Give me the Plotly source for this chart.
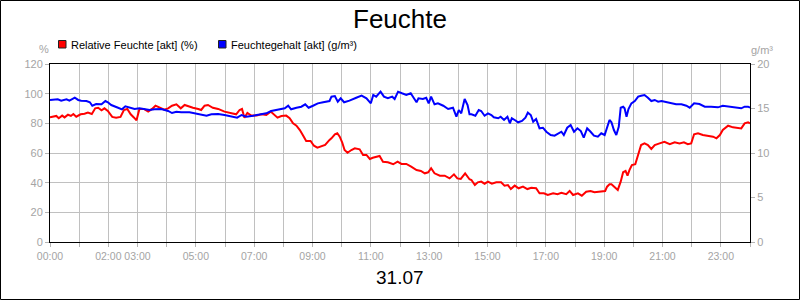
import plotly.graph_objects as go

# ---------------- data ----------------
# Relative Feuchte [akt] (%) : minutes of day, value
rf_min = [0, 13, 18, 25, 30, 37, 43, 48, 54, 63, 71, 78, 86, 93, 99, 106, 112, 119, 128, 136,
          145, 152, 159, 166, 173, 178, 184, 193, 202, 210, 217, 226, 235, 243, 251, 260, 269, 277, 287,
          294, 305, 311, 318, 325, 335, 346, 359, 373, 383, 390, 395, 400, 406, 414, 425, 435, 445,
          454, 461, 468, 476, 486, 493, 500, 507, 514, 520, 527, 536, 543, 550, 558, 566, 575,
          579, 586, 591, 596, 601, 606, 612, 620, 627, 637, 644, 651, 658, 664, 671, 678, 685, 695,
          706, 715, 723, 733, 743, 754, 763, 771, 778, 784, 791, 802, 812, 822, 831, 838, 845, 854, 863,
          867, 874, 880, 887, 894, 901, 909, 918, 928, 935, 942, 948, 956, 964, 973, 982, 990, 1000,
          1007, 1016, 1024, 1035, 1044, 1052, 1062, 1069, 1076, 1086, 1094, 1103, 1112, 1120, 1131,
          1142, 1146, 1151,
          1155, 1162, 1168, 1174, 1179, 1184, 1188, 1192, 1197, 1204, 1210, 1216, 1223, 1230, 1237,
          1244, 1254, 1264, 1275, 1285, 1295, 1304, 1312, 1319, 1325, 1333, 1343, 1354, 1364, 1371,
          1378, 1384, 1395, 1405, 1415, 1422, 1429, 1436, 1440]
rf_val = [84.0, 85.0, 83.4, 85.2, 84.0, 85.8, 85.0, 86.3, 84.5, 86.1, 86.5, 87.2, 86.3, 90.1, 90.5, 88.8, 90.1, 88.3, 84.3, 83.8,
          84.3, 89.0, 89.7, 86.1, 83.8, 82.0, 89.7, 89.7, 87.9, 89.7, 91.9, 90.5, 89.2, 90.1, 91.9, 92.8, 90.1, 92.4, 91.2,
          90.5, 89.7, 89.0, 91.9, 92.4, 90.5, 89.7, 87.9, 86.8, 86.1, 89.0, 89.7, 83.8, 87.0, 85.2, 85.2, 86.1, 85.6,
          87.9, 85.6, 83.8, 84.9, 85.2, 83.4, 80.0, 78.4, 75.5, 72.1, 68.1, 68.1, 64.9, 63.6, 64.3, 65.4, 68.8,
          69.9, 72.6, 73.3, 71.0, 67.2, 62.0, 60.2, 62.0, 63.2, 62.5, 58.7, 58.7, 56.0, 56.8, 57.5, 58.0, 54.1, 53.7,
          52.4, 54.1, 52.6, 52.6, 50.8, 48.5, 47.9, 46.3, 47.0, 49.7, 46.3, 44.7, 44.7, 42.9, 45.6, 42.9, 42.5, 46.3, 42.3,
          41.8, 38.4, 40.2, 40.7, 39.3, 40.7, 39.3, 40.2, 40.2, 38.0, 38.4, 35.7, 38.0, 36.2, 37.3, 35.7, 36.6, 36.2,
          32.8, 32.8, 31.7, 32.8, 32.2, 33.2, 32.2, 34.4, 31.7, 32.8, 31.2, 33.9, 34.4, 33.5, 33.9,
          34.4, 37.3, 38.9,
          38.9, 36.6, 35.1, 40.7, 47.0, 47.9, 44.7, 48.5, 51.9, 52.4, 58.7, 65.4, 66.5, 65.4, 62.7,
          65.4, 66.5, 67.6, 65.9, 67.2, 66.5, 67.2, 65.9, 66.5, 72.6, 73.3, 72.1, 71.7, 71.0, 69.9,
          72.1, 75.5, 78.4, 77.3, 77.1, 76.6, 80.0, 80.7, 80.0]

# Feuchtegehalt [akt] (g/m³) : minutes of day, value
fg_min = [0, 16, 23, 34, 40, 51, 58, 64, 75, 82, 87, 95, 106, 114, 119, 126, 140, 148, 155, 164,
          174, 184, 195, 205, 215, 229, 243, 251, 260, 270, 287,
          298, 311, 322, 332, 346, 359, 373, 385, 394, 404, 418, 431, 445, 455, 469, 483, 490, 496,
          507, 517, 525, 532, 541, 551, 562, 575,
          579, 586, 592, 598, 605, 616, 630, 641, 651, 660, 665, 671, 680, 687, 695, 704, 709, 716,
          724, 733, 742, 749, 754, 758, 767, 774, 779, 784, 791, 798, 809, 819, 829, 836, 841, 846,
          853, 859, 863,
          867, 875, 882, 887, 894, 901, 908, 913, 922, 927, 934, 941, 946, 950, 956, 963, 971, 978,
          983, 989, 994, 1000, 1007, 1014, 1021, 1030, 1038, 1045, 1052, 1057, 1064, 1071, 1078,
          1085, 1092, 1098, 1105, 1112, 1119, 1127, 1134, 1141, 1146, 1151,
          1155, 1160, 1165, 1170, 1174, 1179, 1182, 1186, 1190, 1196, 1203, 1210, 1216, 1223, 1230,
          1237, 1244, 1251, 1258, 1268, 1278, 1288, 1299, 1309, 1316, 1325, 1336, 1347, 1360, 1374,
          1384, 1398, 1412, 1422, 1429, 1436, 1440]
fg_val = [15.96, 16.03, 15.88, 16.03, 15.88, 16.21, 15.96, 15.88, 15.84, 15.70, 15.31, 15.50, 15.47, 15.84, 15.70, 15.39, 15.09, 14.91, 15.25, 15.13,
          14.94, 15.02, 14.91, 14.83, 14.91, 14.94, 14.72, 14.49, 14.64, 14.57, 14.57,
          14.46, 14.35, 14.19, 14.35, 14.38, 14.27, 14.08, 13.97, 14.27, 14.08, 14.19, 14.35, 14.46, 14.72, 14.83, 15.02, 15.31, 14.91,
          15.09, 15.20, 15.47, 15.09, 15.31, 15.58, 15.70, 15.84,
          16.33, 16.40, 15.77, 16.15, 15.70, 15.88, 16.21, 16.44, 16.15, 15.58, 16.52, 16.33, 16.89, 16.33, 16.15, 16.33, 16.07, 16.89,
          16.71, 16.52, 16.71, 16.15, 15.70, 16.15, 16.07, 16.21, 15.58, 16.33, 15.47, 15.58, 15.31, 14.94, 15.09, 14.08, 14.83, 14.46,
          16.07, 15.39, 14.35,
          14.35, 14.19, 14.83, 14.72, 14.19, 14.46, 14.27, 14.01, 13.90, 14.08, 13.71, 14.08, 13.34, 13.90, 13.71, 13.45, 13.60, 13.97,
          14.53, 14.27, 13.52, 13.82, 12.78, 12.84, 12.39, 12.02, 11.94, 12.21, 12.39, 12.02, 12.84, 13.15, 12.39,
          12.78, 12.47, 11.72, 12.78, 12.39, 11.94, 11.83, 12.21, 12.02, 12.78, 13.71,
          13.45, 12.58, 12.02, 12.95, 15.09, 15.20, 15.02, 14.08, 14.94, 15.58, 15.84, 16.33, 16.44, 16.52, 16.21,
          15.84, 15.96, 15.77, 15.84, 15.70, 15.58, 15.47, 15.47, 15.31, 15.09, 15.58, 15.50, 15.20, 15.20, 15.13,
          15.31, 15.20, 15.09, 15.02, 15.20, 15.20, 15.09]

x_tick_vals = list(range(0, 1441, 60))
x_tick_text = ["00:00", "", "02:00", "03:00", "", "05:00", "", "07:00", "", "09:00", "", "11:00", "",
               "13:00", "", "15:00", "", "17:00", "", "19:00", "", "21:00", "", "23:00", ""]
y_left_ticks = [0, 20, 40, 60, 80, 100, 120]
y_right_ticks = [0, 5, 10, 15, 20]

title_text = "Feuchte"
date_text = "31.07"
legend_names = ["Relative Feuchte [akt] (%)", "Feuchtegehalt [akt] (g/m³)"]
legend_colors = ["#ff0000", "#0000ff"]

# ---------------- layout helpers ----------------
W, H = 800, 300
L, R, T, B = 50, 50, 64, 58
PW, PH = W - L - R, H - T - B


def px(xp):
    return (xp - L) / PW


def py(yp):
    return (H - B - yp) / PH


FONT = "Liberation Sans, Arial, sans-serif"
LABEL_GRAY = "#a4a4a4"
TICK_GRAY = "#b4b4b4"
GRID_GRAY = "#c0c0c0"

fig = go.Figure()
fig.add_trace(go.Scatter(x=fg_min, y=fg_val, yaxis="y2", mode="lines",
                         line=dict(color=legend_colors[1], width=2), name=legend_names[1]))
fig.add_trace(go.Scatter(x=rf_min, y=rf_val, mode="lines",
                         line=dict(color=legend_colors[0], width=2), name=legend_names[0]))

shapes = [
    dict(type="rect", xref="paper", yref="paper", x0=px(0.5), x1=px(W - 0.5), y0=py(H - 0.5), y1=py(0.5),
         line=dict(color="black", width=1), fillcolor="rgba(0,0,0,0)", layer="above"),
]
annotations = [
    dict(text=date_text, x=0.5, y=py(277), xref="paper", yref="paper", showarrow=False,
         xanchor="center", yanchor="middle", font=dict(family=FONT, size=19, color="black")),
    dict(text="%", x=px(43.5), y=py(49), xref="paper", yref="paper", showarrow=False,
         xanchor="center", yanchor="middle", font=dict(family=FONT, size=11, color=LABEL_GRAY)),
    dict(text="g/m³", x=px(762), y=py(50), xref="paper", yref="paper", showarrow=False,
         xanchor="center", yanchor="middle", font=dict(family=FONT, size=11, color=LABEL_GRAY)),
]
legend_x = [58, 218]
for name, col, lx in zip(legend_names, legend_colors, legend_x):
    shapes.append(dict(type="rect", xref="paper", yref="paper", x0=px(lx + 0.5), x1=px(lx + 8),
                       y0=py(48), y1=py(40.5), line=dict(color="#202020", width=1), fillcolor=col))
    annotations.append(dict(text=name, x=px(lx + 11), y=py(44.5), xref="paper", yref="paper",
                            showarrow=False, xanchor="left", yanchor="middle",
                            font=dict(family=FONT, size=11, color="black")))

fig.update_layout(
    width=W, height=H,
    margin=dict(l=L, r=R, t=T, b=B, pad=0),
    paper_bgcolor="white", plot_bgcolor="white",
    showlegend=False,
    font=dict(family=FONT, size=11, color=LABEL_GRAY),
    title=dict(text=title_text, x=0.5, xanchor="center", y=1 - 19 / H, yanchor="middle",
               yref="container", font=dict(family=FONT, size=26, color="black")),
    xaxis=dict(range=[0, 1440], tickmode="array", tickvals=x_tick_vals, ticktext=x_tick_text,
               tickangle=0,
               showgrid=True, gridcolor=GRID_GRAY, gridwidth=1, zeroline=False,
               ticks="outside", ticklen=4, tickcolor=TICK_GRAY, tickwidth=1,
               tickfont=dict(family=FONT, size=10.5, color=LABEL_GRAY),
               showline=True, linecolor="black", linewidth=1, mirror=True),
    yaxis=dict(range=[0, 120], tickmode="array", tickvals=y_left_ticks,
               showgrid=True, gridcolor=GRID_GRAY, gridwidth=1, zeroline=False,
               ticks="outside", ticklen=4, tickcolor=TICK_GRAY, tickwidth=1,
               tickfont=dict(family=FONT, size=11, color=LABEL_GRAY),
               showline=True, linecolor="black", linewidth=1, mirror=True),
    yaxis2=dict(range=[0, 20], overlaying="y", side="right", tickmode="array", tickvals=y_right_ticks,
                showgrid=False, zeroline=False, showline=False,
                ticks="outside", ticklen=4, tickcolor=TICK_GRAY, tickwidth=1,
                tickfont=dict(family=FONT, size=11, color=LABEL_GRAY)),
    shapes=shapes,
    annotations=annotations,
)

fig.write_html("out.html")
